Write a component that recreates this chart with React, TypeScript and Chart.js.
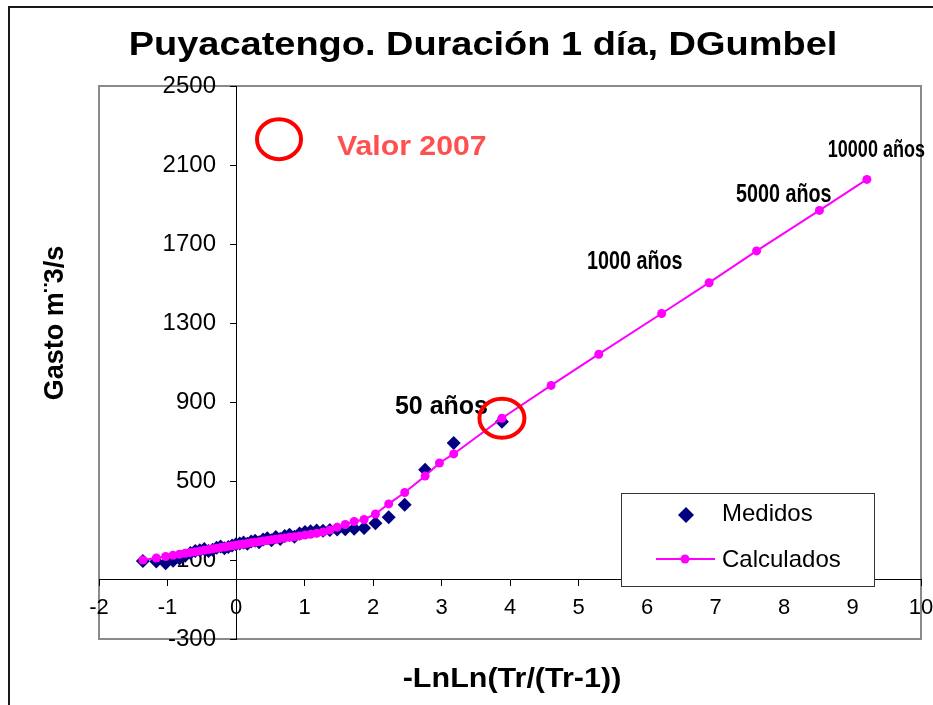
import React, { useEffect, useRef } from "react";
import { Chart, registerables } from "chart.js";

Chart.register(...registerables);

// ---- data ----
const medX = [
  -1.359, -1.163, -1.027, -0.919, -0.825, -0.742, -0.666, -0.595, -0.528, -0.463,
  -0.401, -0.341, -0.283, -0.225, -0.169, -0.113, -0.057, -0.001, 0.054, 0.11,
  0.166, 0.222, 0.279, 0.337, 0.396, 0.456, 0.518, 0.581, 0.645, 0.712,
  0.781, 0.853, 0.928, 1.007, 1.089, 1.177, 1.27, 1.37, 1.477, 1.595,
  1.725, 1.87, 2.036, 2.229, 2.463, 2.761, 3.178, 3.882,
];
const medY = [
  95, 92, 84, 96, 108, 122, 136, 146, 150, 156,
  146, 152, 162, 168, 160, 166, 174, 180, 184, 188,
  182, 194, 198, 190, 204, 210, 200, 216, 206, 222,
  228, 218, 234, 242, 246, 250, 248, 252, 255, 256,
  258, 262, 286, 316, 380, 557, 693, 800,
];
const calcX = [
  -1.359, -1.163, -1.027, -0.919, -0.825, -0.742, -0.666, -0.595, -0.528, -0.463,
  -0.401, -0.341, -0.283, -0.225, -0.169, -0.113, -0.057, -0.001, 0.054, 0.11,
  0.166, 0.222, 0.279, 0.337, 0.396, 0.456, 0.518, 0.581, 0.645, 0.712,
  0.781, 0.853, 0.928, 1.007, 1.089, 1.177, 1.27, 1.37, 1.477, 1.595,
  1.725, 1.87, 2.036, 2.229, 2.463, 2.761, 2.97, 3.178, 3.882,
  4.6, 5.296, 6.214, 6.907, 7.6, 8.517, 9.21,
];
const calcY = [
  100, 110, 118, 124, 129, 134, 138, 142, 146, 150,
  153, 157, 160, 163, 166, 169, 172, 175, 178, 181,
  184, 187, 190, 193, 196, 199, 202, 205, 209, 212,
  215, 218, 222, 226, 230, 235, 242, 252, 266, 280,
  295, 305, 333, 384, 442, 525, 591, 637, 818,
  984, 1142, 1348, 1504, 1665, 1870, 2027,
];
const xMin = -2, xMax = 10, xStep = 1;
const yMin = -300, yMax = 2500, yStep = 400;

const TITLE = "Puyacatengo. Duración 1 día, DGumbel";
const X_TITLE = "-LnLn(Tr/(Tr-1))";
const Y_TITLE = "Gasto m¨3/s";
const SERIES_NAMES = ["Medidos", "Calculados"];
const NOTES = [
  { text: "50 años", x: 2.32, y: 838, size: 25, sx: 1.0 },
  { text: "1000 años", x: 5.124, y: 1575, size: 25, sx: 0.79 },
  { text: "5000 años", x: 7.3, y: 1911, size: 25, sx: 0.79 },
  { text: "10000 años", x: 8.64, y: 2139, size: 24, sx: 0.75 },
];
const VALOR = { text: "Valor 2007", x: 1.474, y: 2149 };
const VALOR_MARK = { x: 0.628, y: 2231 };
const HIGHLIGHT = { x: 3.882, y: 818 };

const FONT = "'Liberation Sans', Arial, Helvetica, sans-serif";
const NAVY = "#000080";
const MAGENTA = "#ff00ff";

function drawText(ctx: CanvasRenderingContext2D, s: string, x: number, y: number,
  font: string, color: string, align: CanvasTextAlign, sx = 1) {
  ctx.save();
  ctx.font = font;
  ctx.fillStyle = color;
  ctx.textAlign = align;
  ctx.textBaseline = "alphabetic";
  ctx.translate(x, y);
  ctx.scale(sx, 1);
  ctx.fillText(s, 0, 0);
  ctx.restore();
}

function diamond(ctx: CanvasRenderingContext2D, x: number, y: number, r: number, color: string) {
  ctx.beginPath();
  ctx.moveTo(x, y - r);
  ctx.lineTo(x + r, y);
  ctx.lineTo(x, y + r);
  ctx.lineTo(x - r, y);
  ctx.closePath();
  ctx.fillStyle = color;
  ctx.fill();
}

const noScalePadding = (scale: any) => {
  scale.paddingLeft = 0;
  scale.paddingRight = 0;
  scale.paddingTop = 0;
  scale.paddingBottom = 0;
};

const decor = {
  id: "decor",
  beforeDraw(chart: any) {
    const { ctx, chartArea: a, width, height } = chart;
    ctx.save();
    ctx.fillStyle = "#ffffff";
    ctx.fillRect(0, 0, width, height);
    ctx.strokeStyle = "#1a1a1a";
    ctx.lineWidth = 2;
    ctx.beginPath();
    ctx.moveTo(9, height);
    ctx.lineTo(9, 7);
    ctx.lineTo(width, 7);
    ctx.stroke();
    ctx.strokeStyle = "#8a8a8a";
    ctx.lineWidth = 2;
    ctx.strokeRect(a.left, a.top, a.right - a.left, a.bottom - a.top);
    ctx.restore();
  },
  afterDraw(chart: any) {
    const { ctx } = chart;
    const xs = chart.scales.x;
    const ys = chart.scales.y;
    ctx.save();
    // titles
    drawText(ctx, TITLE, 483, 55, `bold 33px ${FONT}`, "#000", "center", 1.15);
    drawText(ctx, X_TITLE, 512, 687, `bold 27px ${FONT}`, "#000", "center", 1.13);
    ctx.save();
    ctx.translate(63, 323);
    ctx.rotate(-Math.PI / 2);
    drawText(ctx, Y_TITLE, 0, 0, `bold 27px ${FONT}`, "#000", "center", 1);
    ctx.restore();

    // notes
    for (const n of NOTES) {
      drawText(ctx, n.text, xs.getPixelForValue(n.x), ys.getPixelForValue(n.y),
        `bold ${n.size}px ${FONT}`, "#000", "left", n.sx);
    }
    drawText(ctx, VALOR.text, xs.getPixelForValue(VALOR.x), ys.getPixelForValue(VALOR.y),
      `bold 28px ${FONT}`, "#ff5050", "left", 1.08);
    ctx.strokeStyle = "#ff0000";
    ctx.lineWidth = 4;
    ctx.beginPath();
    ctx.ellipse(xs.getPixelForValue(VALOR_MARK.x), ys.getPixelForValue(VALOR_MARK.y), 22, 20, 0, 0, Math.PI * 2);
    ctx.stroke();
    ctx.beginPath();
    ctx.ellipse(xs.getPixelForValue(HIGHLIGHT.x), ys.getPixelForValue(HIGHLIGHT.y), 22.5, 19.5, 0, 0, Math.PI * 2);
    ctx.stroke();

    // legend
    const L = 621, T = 493, LW = 253, LH = 93;
    ctx.fillStyle = "#ffffff";
    ctx.fillRect(L, T, LW, LH);
    ctx.strokeStyle = "#333";
    ctx.lineWidth = 1;
    ctx.strokeRect(L + 0.5, T + 0.5, LW, LH);
    diamond(ctx, 686, 515, 8, NAVY);
    drawText(ctx, SERIES_NAMES[0], 722, 521, `24px ${FONT}`, "#000", "left");
    ctx.strokeStyle = MAGENTA;
    ctx.lineWidth = 2;
    ctx.beginPath();
    ctx.moveTo(656, 559);
    ctx.lineTo(715, 559);
    ctx.stroke();
    ctx.fillStyle = MAGENTA;
    ctx.beginPath();
    ctx.arc(685, 559, 4.5, 0, Math.PI * 2);
    ctx.fill();
    drawText(ctx, SERIES_NAMES[1], 722, 567, `24px ${FONT}`, "#000", "left");
    ctx.restore();
  },
};

export default function App() {
  const ref = useRef<HTMLCanvasElement | null>(null);
  useEffect(() => {
    if (!ref.current) return;
    const chart = new Chart(ref.current, {
      type: "scatter",
      data: {
        datasets: [
          {
            label: SERIES_NAMES[0],
            data: medX.map((x, i) => ({ x, y: medY[i] })),
            pointStyle: "rectRot",
            pointRadius: 7,
            pointBackgroundColor: NAVY,
            pointBorderColor: NAVY,
            pointBorderWidth: 0,
            showLine: false,
            order: 1,
          },
          {
            label: SERIES_NAMES[1],
            data: calcX.map((x, i) => ({ x, y: calcY[i] })),
            showLine: true,
            borderColor: MAGENTA,
            borderWidth: 2,
            pointStyle: "circle",
            pointRadius: 4.5,
            pointBackgroundColor: MAGENTA,
            pointBorderWidth: 0,
            order: 0,
          },
        ],
      },
      options: {
        responsive: false,
        animation: false,
        devicePixelRatio: 1,
        layout: { padding: { left: 99, top: 86, right: 12, bottom: 66 } },
        plugins: {
          legend: { display: false },
          title: { display: false },
          tooltip: { enabled: false },
        },
        scales: {
          x: {
            type: "linear",
            position: { y: 0 } as any,
            min: xMin,
            max: xMax,
            z: 1,
            afterFit: noScalePadding,
            ticks: {
              stepSize: xStep,
              color: "#000",
              font: { family: FONT, size: 22 },
              padding: 9,
              maxRotation: 0,
              autoSkip: false,
              callback: (v: any) => String(v),
            },
            grid: { drawOnChartArea: false, drawTicks: true, tickLength: 6, color: "#000", lineWidth: 1 },
            border: { display: true, color: "#000", width: 1 },
          },
          y: {
            type: "linear",
            position: { x: 0 } as any,
            min: yMin,
            max: yMax,
            z: 1,
            afterFit: noScalePadding,
            ticks: {
              stepSize: yStep,
              color: "#000",
              font: { family: FONT, size: 24 },
              padding: 10,
              autoSkip: false,
              // trailing spaces keep the right-aligned labels clear of the axis line
              callback: (v: any) => String(v) + "   ",
            },
            grid: { drawOnChartArea: false, drawTicks: true, tickLength: 6, color: "#000", lineWidth: 1 },
            border: { display: true, color: "#000", width: 1 },
          },
        },
      },
      plugins: [decor],
    } as any);
    return () => chart.destroy();
  }, []);
  return (
    <canvas
      ref={ref}
      width={933}
      height={705}
      style={{ position: "absolute", left: 0, top: 0, display: "block" }}
    />
  );
}
